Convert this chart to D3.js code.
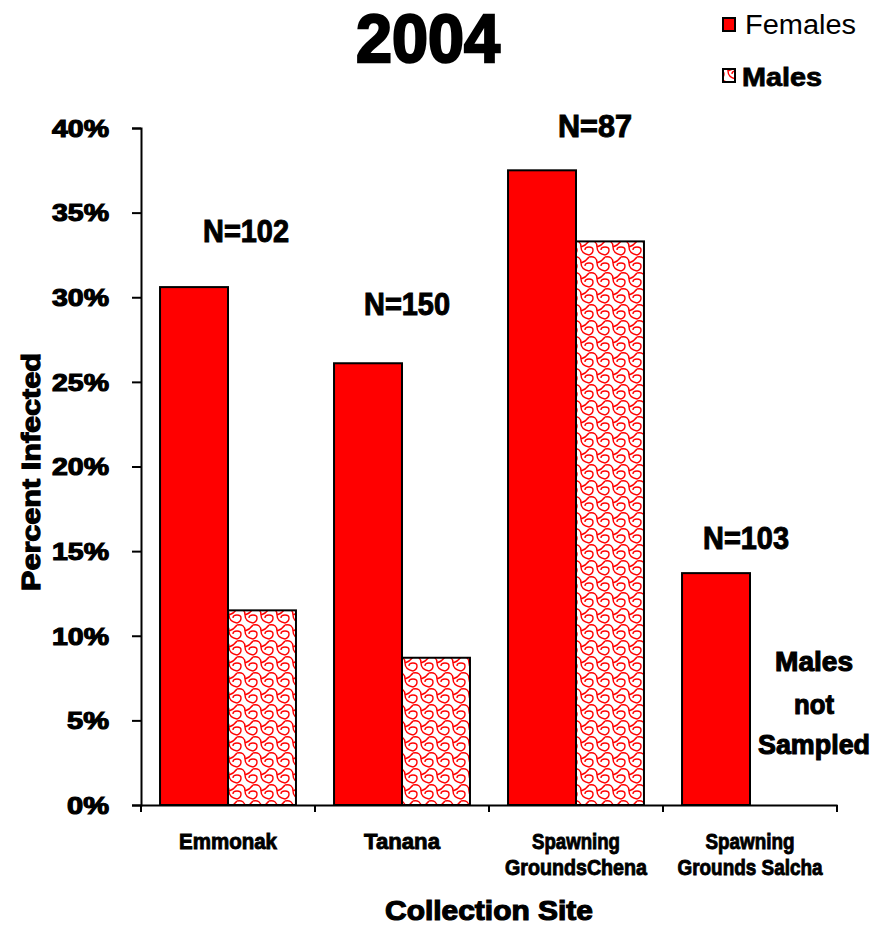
<!DOCTYPE html>
<html><head><meta charset="utf-8">
<script src="https://cdn.jsdelivr.net/npm/d3@7/dist/d3.min.js"></script>
<style>body{margin:0;background:#fff}svg{display:block}text{font-family:"Liberation Sans",Arial,sans-serif}</style>
</head><body><svg id="c" width="878" height="926"></svg>
<script>
const categories = ["Emmonak", "Tanana", "Spawning Grounds Chena", "Spawning Grounds Salcha"];
const categoryLines = [["Emmonak"], ["Tanana"], ["Spawning", "GroundsChena"], ["Spawning", "Grounds Salcha"]];
const females = [30.6, 26.1, 37.5, 13.7];
const males = [11.5, 8.7, 33.3, null];
const sampleSizes = ["N=102", "N=150", "N=87", "N=103"];
const nLabelValues = [33.9, 29.6, 40.1, 15.8];
const yTicks = [0, 5, 10, 15, 20, 25, 30, 35, 40];
const notSampled = ["Males", "not", "Sampled"];

const svg = d3.select("#c");
const m = {l: 141, r: 41, t: 128, b: 121};
const W = 878 - m.l - m.r, H = 926 - m.t - m.b;

const defs = svg.append("defs");
const pat = defs.append("pattern").attr("id", "wave").attr("patternUnits", "userSpaceOnUse")
  .attr("width", 16).attr("height", 16);
pat.append("rect").attr("width", 16).attr("height", 16).attr("fill", "#fff");
pat.append("path").attr("d",
  "M0,1 C5,0 8,2 8,7 C8,11 11,14 16,15 M8,7 C11,6 14,4 16,1 M0,15 C3,14 4,12 4,10 C4,8 2,7 0,7 M16,7 C14,7 12,8 12,10")
  .attr("fill", "none").attr("stroke", "#ff0000").attr("stroke-width", 1.4);

const g = svg.append("g").attr("transform", `translate(${m.l},${m.t})`);
const x = d3.scaleBand().domain(categories).range([0, W]).paddingInner(0).paddingOuter(0);
const inner = d3.scaleBand().domain(["F", "M"]).range([0, x.bandwidth()]).paddingOuter(0.28).paddingInner(0);
const y = d3.scaleLinear().domain([0, 40]).range([H, 0]);

// bars
categories.forEach((c, i) => {
  g.append("rect").attr("x", x(c) + inner("F")).attr("y", y(females[i]))
    .attr("width", inner.bandwidth()).attr("height", H - y(females[i]))
    .attr("fill", "#ff0000").attr("stroke", "#000").attr("stroke-width", 2);
  if (males[i] != null) {
    g.append("rect").attr("x", x(c) + inner("M")).attr("y", y(males[i]))
      .attr("width", inner.bandwidth()).attr("height", H - y(males[i]))
      .attr("fill", "url(#wave)").attr("stroke", "#000").attr("stroke-width", 2);
  }
});

// y axis
const ya = g.append("g").call(d3.axisLeft(y).tickValues(yTicks).tickFormat(d => d + "%").tickSize(9).tickPadding(23));
ya.select(".domain").attr("stroke-width", 2);
ya.selectAll(".tick line").attr("stroke-width", 2);
ya.selectAll("text").attr("font-size", 23).attr("font-weight", "bold").attr("fill", "#000")
  .attr("stroke", "#000").attr("stroke-width", 1.1).attr("dy", "0.36em").attr("textLength", 57).attr("lengthAdjust", "spacingAndGlyphs");
ya.selectAll(".tick text").filter(d => d < 10).attr("textLength", 42);

// x axis
const xa = g.append("g").attr("transform", `translate(0,${H})`)
  .call(d3.axisBottom(x).tickSize(0).tickFormat(""));
xa.select(".domain").attr("stroke-width", 2);
xa.selectAll(".tick").remove();
const bounds = categories.map(c => x(c)).concat([W]);
bounds.forEach(b => g.append("line").attr("x1", b).attr("x2", b).attr("y1", H).attr("y2", H + 7).attr("stroke", "#000").attr("stroke-width", 2));

const labelWidths = [[98], [76], [88, 142], [89, 145]];
categories.forEach((c, i) => {
  const cx = x(c) + x.bandwidth() / 2;
  categoryLines[i].forEach((ln, j) => {
    g.append("text").attr("x", cx).attr("y", H + 44 + j * 26).attr("text-anchor", "middle")
      .attr("font-size", 22).attr("font-weight", "bold").attr("textLength", labelWidths[i][j]).attr("lengthAdjust", "spacingAndGlyphs")
      .attr("stroke", "#000").attr("stroke-width", 0.9).text(ln);
  });
});

// N labels
const nCenters = [246, 407, 595, 746];
categories.forEach((c, i) => {
  svg.append("text").attr("x", nCenters[i]).attr("y", m.t + y(nLabelValues[i]))
    .attr("text-anchor", "middle").attr("font-size", 31).attr("font-weight", "bold").attr("dy", "0.36em")
    .attr("textLength", i === 2 ? 74 : 86).attr("lengthAdjust", "spacingAndGlyphs")
    .attr("stroke", "#000").attr("stroke-width", 1).text(sampleSizes[i]);
});

// Males not sampled
const nsWidths = [78, 40, 112];
const nsY = [661, 704, 744];
notSampled.forEach((t, j) => {
  svg.append("text").attr("x", 814).attr("y", nsY[j]).attr("text-anchor", "middle")
    .attr("font-size", 27).attr("font-weight", "bold").attr("dy", "0.36em").attr("textLength", nsWidths[j]).attr("lengthAdjust", "spacingAndGlyphs")
    .attr("stroke", "#000").attr("stroke-width", 1.1).text(t);
});

// axis titles
svg.append("text").attr("transform", "translate(31,472) rotate(-90)").attr("text-anchor", "middle")
  .attr("font-size", 26).attr("font-weight", "bold").attr("dy", "0.36em")
  .attr("textLength", 238).attr("lengthAdjust", "spacingAndGlyphs")
  .attr("stroke", "#000").attr("stroke-width", 1.2).text("Percent Infected");
svg.append("text").attr("x", 489).attr("y", 920).attr("text-anchor", "middle")
  .attr("font-size", 28).attr("font-weight", "bold").attr("textLength", 208).attr("lengthAdjust", "spacingAndGlyphs")
  .attr("stroke", "#000").attr("stroke-width", 1.2).text("Collection Site");

// title
svg.append("text").attr("x", 428).attr("y", 62).attr("text-anchor", "middle")
  .attr("font-size", 68).attr("font-weight", "bold").attr("stroke", "#000").attr("stroke-width", 2.4)
  .attr("textLength", 144).attr("lengthAdjust", "spacingAndGlyphs").text("2004");

// legend
const leg = svg.append("g");
leg.append("rect").attr("x", 723).attr("y", 18).attr("width", 12).attr("height", 13).attr("fill", "#ff0000").attr("stroke", "#000").attr("stroke-width", 2);
leg.append("text").attr("x", 745).attr("y", 34).attr("font-size", 27).attr("fill", "#000")
  .attr("textLength", 111).attr("lengthAdjust", "spacingAndGlyphs").text("Females");
leg.append("rect").attr("x", 723).attr("y", 69).attr("width", 12).attr("height", 13).attr("fill", "url(#wave)").attr("stroke", "#000").attr("stroke-width", 2);
leg.append("text").attr("x", 742).attr("y", 86).attr("font-size", 26).attr("font-weight", "bold")
  .attr("textLength", 80).attr("lengthAdjust", "spacingAndGlyphs")
  .attr("stroke", "#000").attr("stroke-width", 0.8).text("Males");
</script></body></html>
